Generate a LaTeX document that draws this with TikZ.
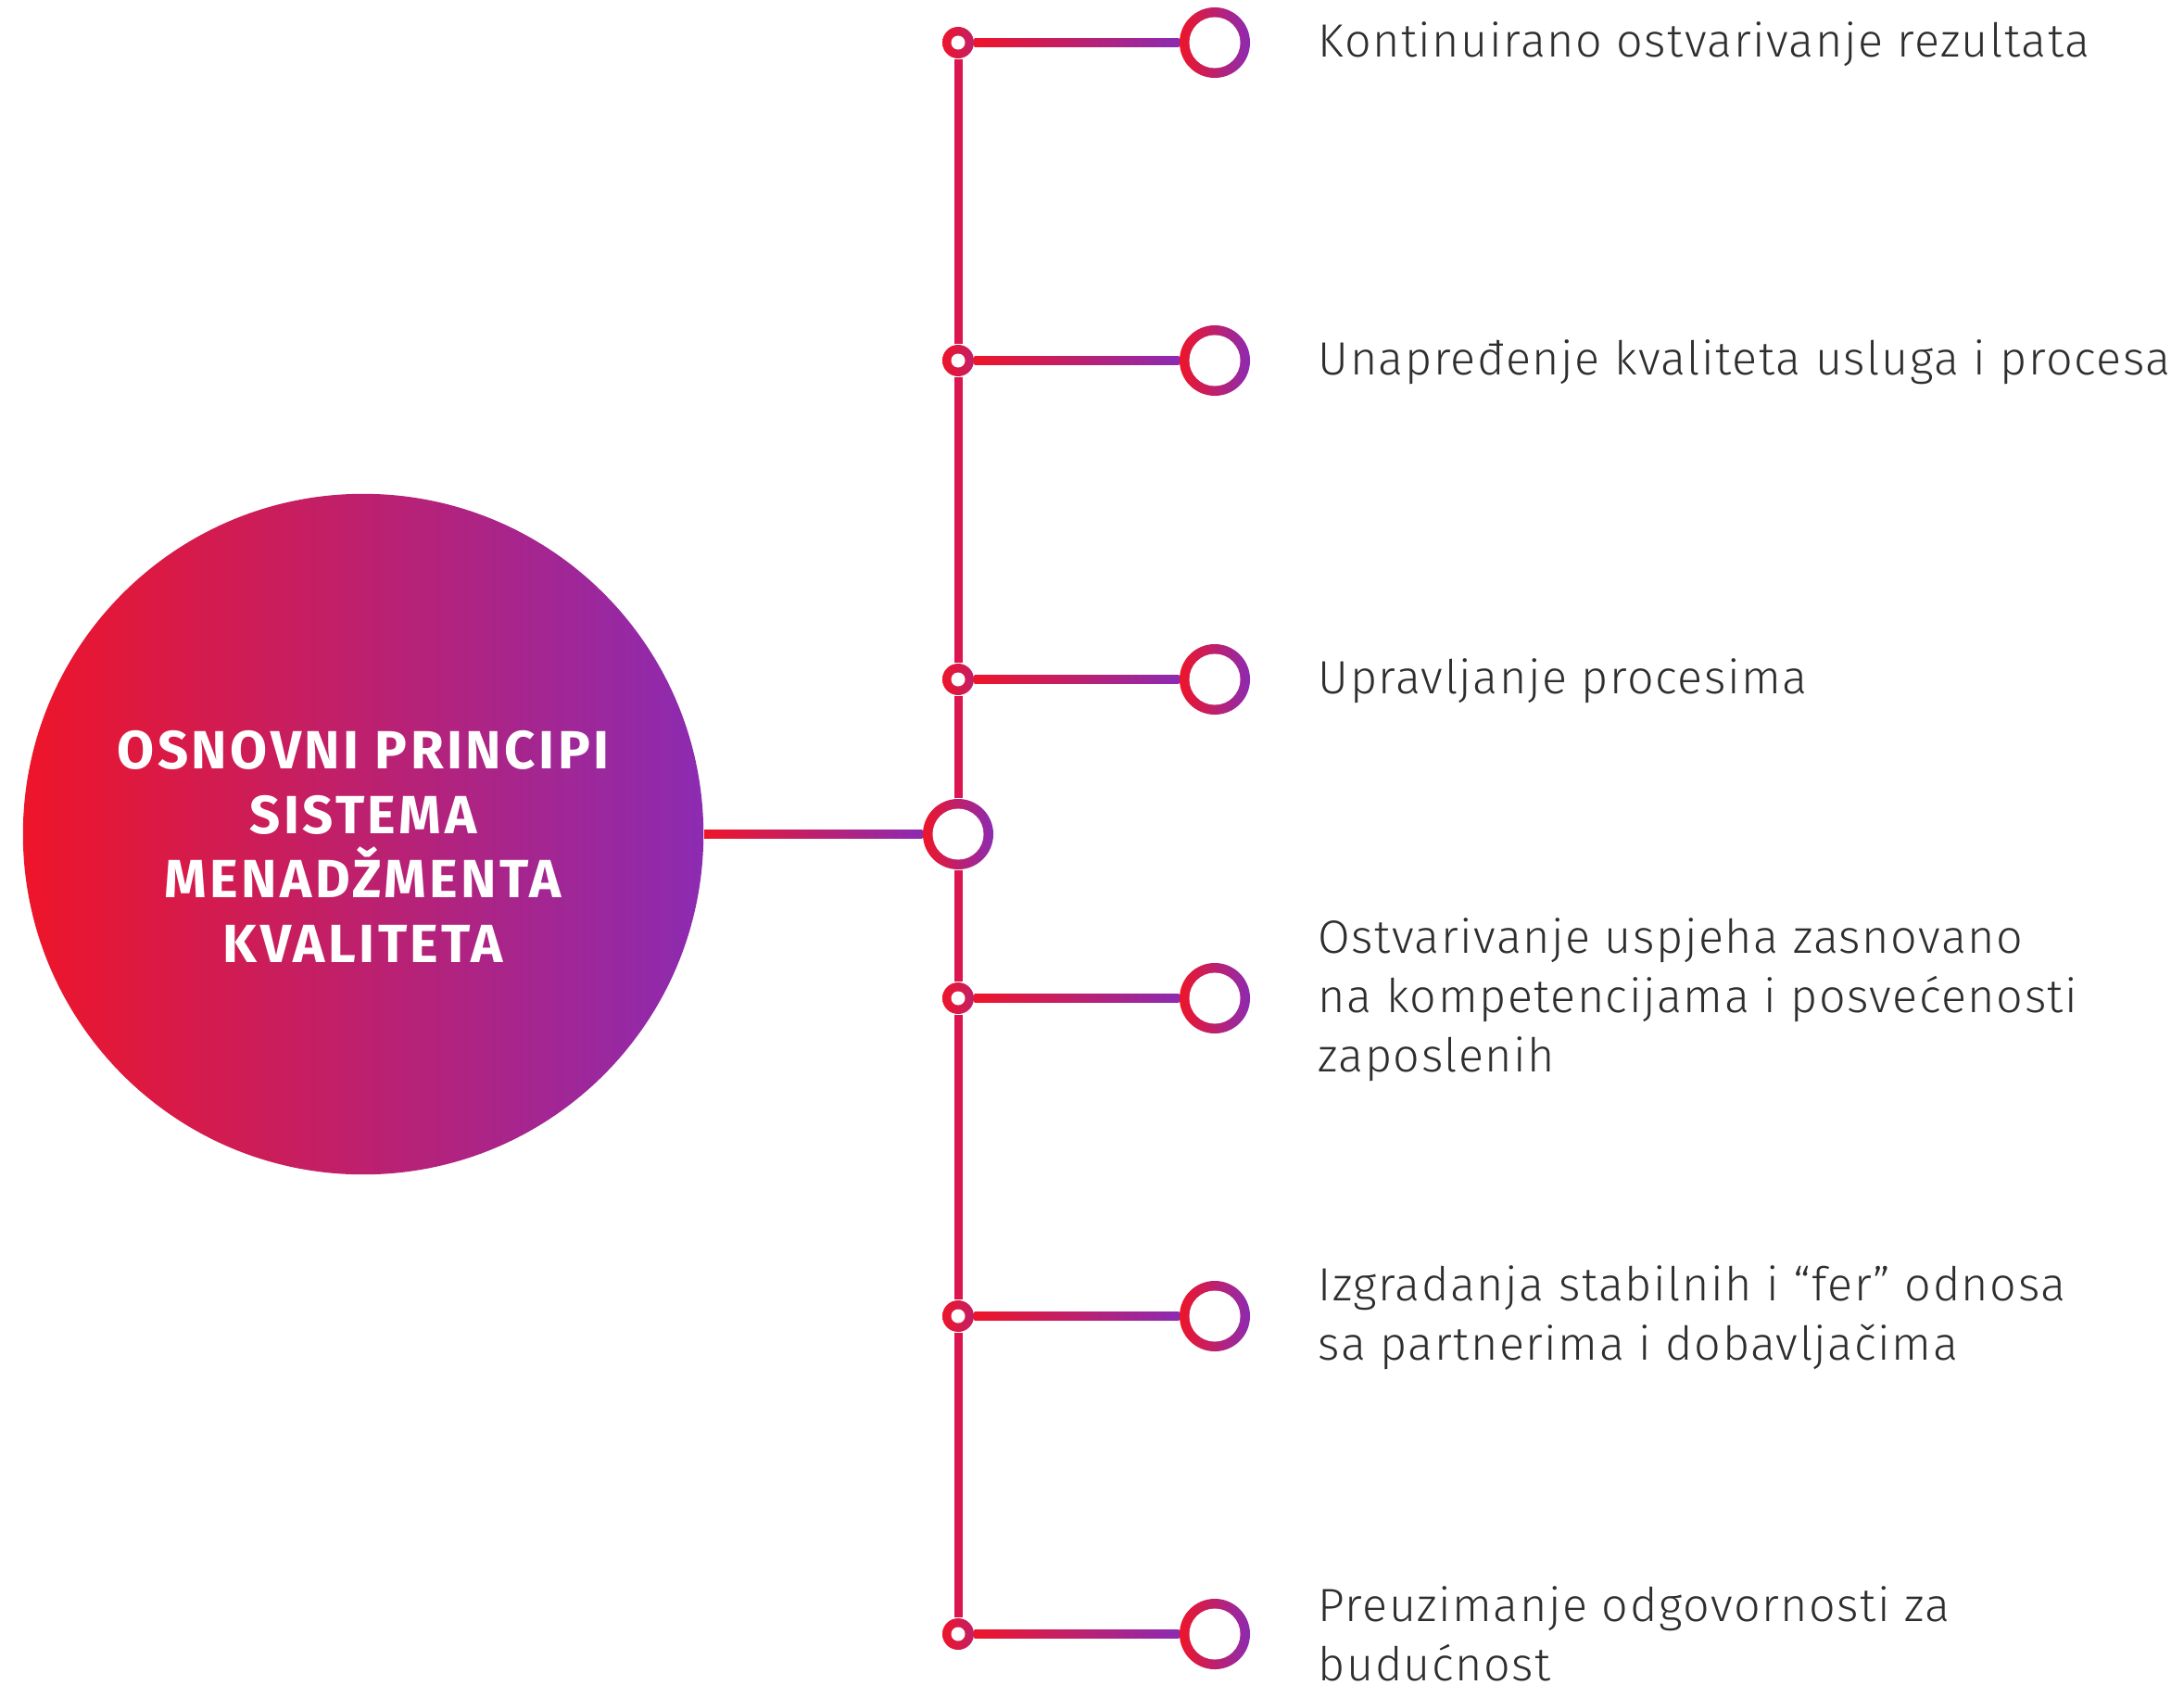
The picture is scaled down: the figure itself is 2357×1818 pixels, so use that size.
\documentclass[tikz,border=0pt]{standalone}
\usepackage{fontspec}
\setmainfont{Fira Sans}[UprightFont={* Light}, BoldFont={* Bold}, LetterSpace=3]
\newfontfamily\headfont[LetterSpace=6]{Fira Sans}
\usetikzlibrary{positioning}
\definecolor{qred}{HTML}{EE1529}
\definecolor{qpurple}{HTML}{8C2BB2}
\definecolor{qline}{HTML}{DC1450}
\definecolor{ink}{HTML}{2E2E2E}
\tikzset{
  shadedring/.style={
    circle, inner sep=0pt, left color=qred, right color=qpurple
  },
  ring/.style={
    shadedring, minimum size=0.76cm,
    path picture={\fill[white] (path picture bounding box.center) circle[radius=0.275cm];}
  },
  joint/.style={
    shadedring, minimum size=0.34cm, right color=qred!55!qpurple,
    path picture={\fill[white] (path picture bounding box.center) circle[radius=0.075cm];}
  },
  bar/.style={left color=qred, right color=qpurple},
  vline/.style={draw=qline, line width=0.09cm},
  itemtext/.style={
    anchor=west, align=left, inner sep=0pt, text=ink,
    font=\fontsize{14.3}{18.2}\selectfont
  }
}

\begin{document}
\begin{tikzpicture}[x=0.01cm, y=-0.01cm,
        core/.style={shadedring, minimum size=7.34cm, text=white, align=center,
          font=\headfont\bfseries\fontsize{16.5}{19.8}\selectfont}
      ]
        \useasboundingbox (0,0) rectangle (2357,1818);
        \node[core] (core) at (392,900) {\rule{0pt}{0.68cm}OSNOVNI PRINCIPI\\SISTEMA\\MENADŽMENTA\\KVALITETA};
        \node[ring] (hub) at (1034,900) {};
        \node[joint] (j1) at (1034,46) {};
        \node[joint] (j2) at (1034,389) {};
        \node[joint] (j3) at (1034,733) {};
        \node[joint] (j4) at (1034,1077) {};
        \node[joint] (j5) at (1034,1420) {};
        \node[joint] (j6) at (1034,1763) {};
        \node[ring] (r1) at (1311,46) {};
        \node[ring] (r2) at (1311,389) {};
        \node[ring] (r3) at (1311,733) {};
        \node[ring] (r4) at (1311,1077) {};
        \node[ring] (r5) at (1311,1420) {};
        \node[ring] (r6) at (1311,1763) {};
        \node[itemtext] (t1) at (1422,48) {Kontinuirano ostvarivanje rezultata};
        \node[itemtext] (t2) at (1422,391) {Unapređenje kvaliteta usluga i procesa};
        \node[itemtext] (t3) at (1422,735) {Upravljanje procesima};
        \node[itemtext] (t4) at (1422,1079) {Ostvarivanje uspjeha zasnovano\\na kompetencijama i posvećenosti\\zaposlenih};
        \node[itemtext] (t5) at (1422,1422) {Izgradanja stabilnih i “fer” odnosa\\sa partnerima i dobavljačima};
        \node[itemtext] (t6) at (1422,1763) {Preuzimanje odgovornosti za\\budućnost};
        \draw[vline] (j1) -- (j2);
        \draw[vline] (j2) -- (j3);
        \draw[vline] (j3) -- (hub);
        \draw[vline] (hub) -- (j4);
        \draw[vline] (j4) -- (j5);
        \draw[vline] (j5) -- (j6);
        \shade[bar] ([yshift=0.045cm]core.east) rectangle ([yshift=-0.045cm]hub.west);
        \shade[bar] ([yshift=0.045cm]j1.east) rectangle ([yshift=-0.045cm]r1.west);
        \shade[bar] ([yshift=0.045cm]j2.east) rectangle ([yshift=-0.045cm]r2.west);
        \shade[bar] ([yshift=0.045cm]j3.east) rectangle ([yshift=-0.045cm]r3.west);
        \shade[bar] ([yshift=0.045cm]j4.east) rectangle ([yshift=-0.045cm]r4.west);
        \shade[bar] ([yshift=0.045cm]j5.east) rectangle ([yshift=-0.045cm]r5.west);
        \shade[bar] ([yshift=0.045cm]j6.east) rectangle ([yshift=-0.045cm]r6.west);
      \end{tikzpicture}
\end{document}
